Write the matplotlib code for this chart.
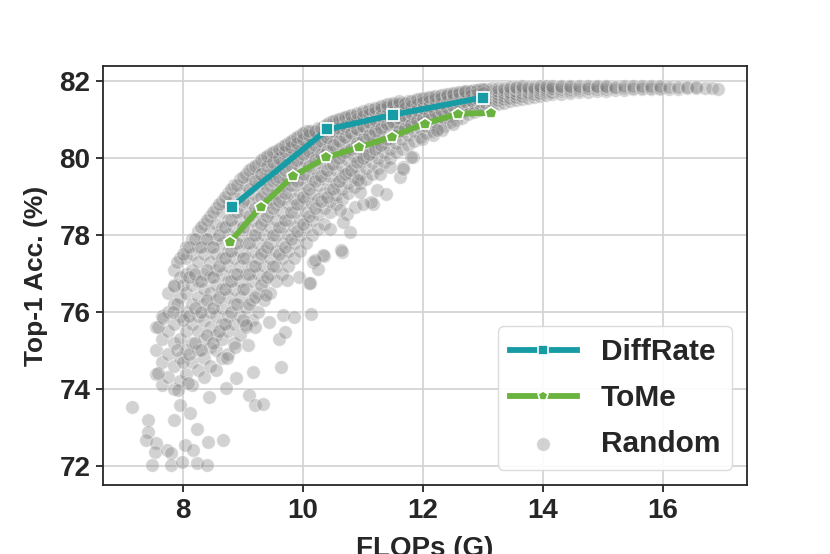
import numpy as np
import matplotlib
matplotlib.use('Agg')
import matplotlib.pyplot as plt

plt.rcParams['font.family'] = ['Liberation Sans', 'DejaVu Sans']
plt.rcParams['font.weight'] = 'bold'

# DiffRate / ToMe curves
diffrate_flops = [8.82, 10.41, 11.50, 13.00]
diffrate_acc = [78.74, 80.75, 81.13, 81.58]
tome_flops = [8.79, 9.30, 9.84, 10.39, 10.93, 11.48, 12.03, 12.59, 13.13]
tome_acc = [77.83, 78.74, 79.54, 80.02, 80.28, 80.56, 80.90, 81.16, 81.18]

# random search points, dense band (one x per column, list of acc values)
band_x = [7.55, 7.65, 7.75, 7.85, 7.95, 8.05, 8.15, 8.25, 8.35, 8.45,
          8.55, 8.65, 8.75, 8.85, 8.95, 9.05, 9.15, 9.25, 9.35, 9.45,
          9.55, 9.65, 9.75, 9.85, 9.95, 10.05, 10.15, 10.25, 10.35, 10.45,
          10.55, 10.65, 10.75, 10.85, 10.95, 11.05, 11.15, 11.25, 11.35, 11.45,
          11.55, 11.65, 11.75, 11.85, 11.95, 12.05, 12.15, 12.25, 12.35, 12.45,
          12.55, 12.65, 12.75, 12.85, 12.95, 13.05, 13.15, 13.25, 13.35, 13.45,
          13.55, 13.65, 13.75, 13.85, 13.95, 14.05, 14.15, 14.3, 14.45, 14.6,
          14.75, 14.9, 15.05, 15.2, 15.35, 15.5, 15.65, 15.8, 15.95, 16.1,
          16.25, 16.4, 16.55, 16.7, 16.82, 16.92]
band_y = [
    [74.4, 75.0, 75.6],
    [74.1, 74.7, 75.3, 75.9],
    [74.3, 74.9, 75.5, 76.0, 76.5],
    [74.0, 74.6, 75.2, 75.7, 76.2, 76.7, 77.1],
    [74.2, 74.8, 75.3, 75.9, 76.4, 76.9, 77.4],
    [74.4, 75.0, 75.5, 76.0, 76.5, 77.0, 77.4, 77.7],
    [74.1, 74.7, 75.2, 75.7, 76.2, 76.7, 77.1, 77.5, 77.9],
    [74.5, 75.0, 75.5, 75.9, 76.4, 76.8, 77.3, 77.7, 78.1],
    [74.3, 74.8, 75.3, 75.8, 76.2, 76.6, 77.0, 77.5, 77.9, 78.3],
    [74.6, 75.1, 75.6, 76.0, 76.5, 76.9, 77.3, 77.7, 78.1, 78.5],
    [74.5, 75.0, 75.4, 75.9, 76.3, 76.7, 77.1, 77.5, 77.9, 78.3, 78.7],
    [74.8, 75.3, 75.7, 76.1, 76.6, 77.0, 77.4, 77.8, 78.2, 78.6, 78.9],
    [74.9, 75.5, 75.9, 76.4, 76.8, 77.2, 77.6, 78.0, 78.4, 78.8, 79.1],
    [75.2, 75.7, 76.2, 76.6, 77.0, 77.4, 77.8, 78.2, 78.6, 79.0, 79.3],
    [75.4, 75.9, 76.4, 76.8, 77.2, 77.6, 78.0, 78.4, 78.8, 79.1, 79.45],
    [75.6, 76.1, 76.6, 77.0, 77.4, 77.8, 78.2, 78.6, 78.95, 79.3, 79.6],
    [75.8, 76.3, 76.8, 77.2, 77.6, 78.0, 78.4, 78.8, 79.1, 79.45, 79.75],
    [76.0, 76.5, 77.0, 77.4, 77.8, 78.2, 78.6, 78.95, 79.3, 79.6, 79.85],
    [76.3, 76.8, 77.2, 77.6, 78.0, 78.4, 78.8, 79.1, 79.45, 79.75, 80.0],
    [76.5, 77.0, 77.4, 77.8, 78.2, 78.6, 78.95, 79.3, 79.6, 79.9, 80.1],
    [76.8, 77.2, 77.6, 78.0, 78.4, 78.8, 79.1, 79.45, 79.75, 80.0, 80.2],
    [77.0, 77.4, 77.8, 78.2, 78.6, 78.95, 79.3, 79.6, 79.9, 80.15, 80.3],
    [77.2, 77.6, 78.0, 78.4, 78.8, 79.1, 79.45, 79.75, 80.0, 80.25, 80.4],
    [77.4, 77.8, 78.2, 78.6, 78.95, 79.3, 79.6, 79.9, 80.15, 80.35, 80.5],
    [77.6, 78.0, 78.4, 78.8, 79.1, 79.45, 79.75, 80.0, 80.25, 80.45, 80.6],
    [77.8, 78.2, 78.6, 78.95, 79.3, 79.6, 79.9, 80.15, 80.4, 80.6, 80.7],
    [78.0, 78.4, 78.8, 79.1, 79.45, 79.75, 80.0, 80.25, 80.5, 80.7],
    [78.15, 78.55, 78.95, 79.3, 79.6, 79.9, 80.15, 80.4, 80.6, 80.8],
    [78.3, 78.7, 79.1, 79.45, 79.75, 80.05, 80.3, 80.5, 80.7, 80.85],
    [78.6, 78.9, 79.2, 79.55, 79.85, 80.15, 80.4, 80.6, 80.8, 80.95],
    [78.8, 79.05, 79.35, 79.7, 80.0, 80.25, 80.5, 80.7, 80.9, 81.0],
    [78.95, 79.2, 79.5, 79.8, 80.1, 80.35, 80.6, 80.8, 80.95, 81.05],
    [79.1, 79.35, 79.65, 79.95, 80.2, 80.45, 80.7, 80.9, 81.05, 81.1],
    [79.25, 79.5, 79.8, 80.05, 80.3, 80.55, 80.8, 80.95, 81.1],
    [79.35, 79.6, 79.9, 80.15, 80.4, 80.65, 80.85, 81.0, 81.15],
    [79.45, 79.75, 80.05, 80.3, 80.5, 80.75, 80.95, 81.1, 81.2],
    [79.6, 79.9, 80.15, 80.4, 80.6, 80.8, 81.0, 81.15, 81.25],
    [79.75, 80.0, 80.3, 80.5, 80.7, 80.9, 81.05, 81.2, 81.3],
    [79.9, 80.15, 80.4, 80.6, 80.8, 80.95, 81.1, 81.25, 81.35],
    [80.0, 80.25, 80.5, 80.7, 80.9, 81.05, 81.2, 81.3, 81.4],
    [80.15, 80.4, 80.6, 80.8, 80.95, 81.1, 81.25, 81.35, 81.42],
    [80.25, 80.5, 80.7, 80.9, 81.05, 81.2, 81.3, 81.45],
    [80.35, 80.6, 80.8, 80.95, 81.1, 81.25, 81.35, 81.48],
    [80.45, 80.7, 80.9, 81.05, 81.2, 81.3, 81.4, 81.5],
    [80.55, 80.8, 80.95, 81.1, 81.25, 81.35, 81.45, 81.55],
    [80.65, 80.85, 81.0, 81.15, 81.3, 81.4, 81.5, 81.58],
    [80.7, 80.9, 81.05, 81.2, 81.35, 81.45, 81.55, 81.6],
    [80.8, 81.0, 81.15, 81.3, 81.4, 81.5, 81.6],
    [80.85, 81.05, 81.2, 81.35, 81.45, 81.55, 81.64],
    [80.95, 81.1, 81.25, 81.4, 81.5, 81.6, 81.67],
    [81.0, 81.15, 81.3, 81.45, 81.55, 81.65, 81.7],
    [81.05, 81.2, 81.35, 81.48, 81.58, 81.68, 81.72],
    [81.15, 81.3, 81.42, 81.52, 81.62, 81.7, 81.75],
    [81.2, 81.35, 81.45, 81.55, 81.65, 81.73, 81.77],
    [81.25, 81.4, 81.5, 81.6, 81.68, 81.76, 81.8],
    [81.3, 81.45, 81.55, 81.64, 81.72, 81.8],
    [81.35, 81.48, 81.58, 81.66, 81.74, 81.82],
    [81.4, 81.52, 81.6, 81.68, 81.76, 81.83],
    [81.45, 81.55, 81.63, 81.71, 81.78, 81.84],
    [81.5, 81.58, 81.66, 81.73, 81.8, 81.85],
    [81.52, 81.6, 81.68, 81.75, 81.82, 81.86],
    [81.55, 81.63, 81.7, 81.77, 81.83, 81.87],
    [81.58, 81.66, 81.73, 81.79, 81.85],
    [81.6, 81.68, 81.75, 81.8, 81.86],
    [81.62, 81.7, 81.77, 81.82, 81.87],
    [81.64, 81.72, 81.78, 81.83, 81.88],
    [81.66, 81.73, 81.79, 81.84, 81.88],
    [81.68, 81.75, 81.8, 81.85, 81.89],
    [81.7, 81.76, 81.81, 81.86, 81.89],
    [81.72, 81.78, 81.83, 81.87],
    [81.73, 81.79, 81.84, 81.88],
    [81.74, 81.8, 81.85, 81.89],
    [81.76, 81.81, 81.86, 81.89],
    [81.77, 81.82, 81.86],
    [81.78, 81.83, 81.87],
    [81.79, 81.83, 81.87],
    [81.79, 81.84, 81.87],
    [81.8, 81.84, 81.87],
    [81.8, 81.84, 81.87],
    [81.81, 81.85],
    [81.81, 81.85],
    [81.82, 81.85],
    [81.82, 81.85],
    [81.82],
    [81.82],
    [81.81],
]

# second, interleaved set of columns inside the dense band
band2_x = [7.9, 8.0, 8.1, 8.2, 8.3, 8.4, 8.5, 8.6, 8.7, 8.8,
           8.9, 9.0, 9.1, 9.2, 9.3, 9.4, 9.5, 9.6, 9.7, 9.8,
           9.9, 10.0, 10.1, 10.2, 10.3, 10.4, 10.5, 10.6, 10.7, 10.8,
           10.9, 11.0, 11.1, 11.2, 11.3, 11.4, 11.5, 11.6, 11.7, 11.8,
           11.9, 12.0, 12.1, 12.2, 12.3, 12.4, 12.5, 12.6, 12.7, 12.8,
           12.9, 13.0]
band2_y = [
    [75.0, 76.2, 77.3],
    [74.7, 75.8, 76.7, 77.5],
    [74.9, 75.9, 76.9, 77.7],
    [75.2, 76.1, 77.0, 77.9],
    [75.0, 76.0, 76.8, 77.7, 78.2],
    [75.4, 76.3, 77.1, 77.9, 78.4],
    [75.2, 76.1, 76.9, 77.7, 78.6],
    [75.5, 76.4, 77.2, 78.0, 78.8],
    [75.7, 76.6, 77.4, 78.2, 79.0],
    [76.0, 76.8, 77.6, 78.4, 79.2],
    [76.2, 77.0, 77.8, 78.6, 79.3],
    [75.8, 76.6, 77.4, 78.2, 78.9, 79.5],
    [76.2, 77.0, 77.8, 78.5, 79.2, 79.7],
    [76.4, 77.2, 78.0, 78.7, 79.4, 79.8],
    [76.7, 77.5, 78.3, 79.0, 79.6, 79.95],
    [76.9, 77.7, 78.5, 79.2, 79.8, 80.05],
    [77.2, 78.0, 78.7, 79.4, 79.9, 80.15],
    [77.5, 78.2, 78.9, 79.5, 80.0, 80.25],
    [77.7, 78.4, 79.1, 79.7, 80.2, 80.35],
    [77.9, 78.6, 79.3, 79.8, 80.3, 80.45],
    [78.1, 78.8, 79.4, 79.95, 80.4, 80.55],
    [78.3, 79.0, 79.6, 80.1, 80.5, 80.65],
    [78.5, 79.2, 79.8, 80.2, 80.6, 80.72],
    [78.7, 79.4, 79.95, 80.35, 80.7],
    [78.9, 79.55, 80.1, 80.45, 80.8],
    [79.0, 79.7, 80.2, 80.55, 80.9],
    [79.2, 79.85, 80.35, 80.7, 80.97],
    [79.4, 80.0, 80.45, 80.8, 81.02],
    [79.6, 80.15, 80.55, 80.85, 81.08],
    [79.7, 80.25, 80.65, 80.95, 81.12],
    [79.9, 80.4, 80.75, 81.02, 81.17],
    [80.0, 80.5, 80.85, 81.1, 81.22],
    [80.1, 80.6, 80.95, 81.15, 81.27],
    [80.25, 80.7, 81.0, 81.2, 81.32],
    [80.35, 80.8, 81.1, 81.28, 81.37],
    [80.5, 80.9, 81.15, 81.33, 81.42],
    [80.6, 80.95, 81.2, 81.38, 81.45],
    [80.7, 81.05, 81.25, 81.42, 81.48],
    [80.8, 81.1, 81.32, 81.45],
    [80.9, 81.18, 81.37, 81.5],
    [81.0, 81.25, 81.42, 81.53],
    [81.05, 81.3, 81.47, 81.57],
    [81.12, 81.35, 81.5, 81.6],
    [81.2, 81.4, 81.55, 81.62],
    [81.25, 81.45, 81.58, 81.65],
    [81.3, 81.5, 81.62, 81.68],
    [81.35, 81.55, 81.65, 81.7],
    [81.42, 81.58, 81.68, 81.73],
    [81.48, 81.62, 81.72, 81.76],
    [81.52, 81.65, 81.74],
    [81.56, 81.68, 81.77],
    [81.6, 81.7, 81.79],
]

# sparse points below the band (bottom-left corner)
low_x = [7.16, 7.42, 7.42, 7.39, 7.56, 7.53, 7.73, 7.81, 7.49, 7.81,
         7.98, 8.23, 8.41, 8.03, 8.17, 8.42, 8.67, 8.23, 7.86, 7.95,
         8.12, 7.92, 8.09, 8.44, 8.72, 8.89, 9.10, 9.20, 9.34, 9.17,
         9.63, 7.59, 7.59, 7.67, 7.84, 7.85, 8.87, 9.09, 8.73, 9.60,
         9.70, 9.44, 9.67, 9.85, 10.13, 9.21, 9.39, 9.06]
low_y = [73.54, 73.18, 72.89, 72.66, 72.59, 72.37, 72.42, 72.33, 72.03, 72.03,
         72.11, 72.07, 72.01, 72.55, 72.42, 72.63, 72.66, 72.96, 73.18, 73.58,
         73.37, 73.97, 74.15, 73.80, 74.02, 74.28, 73.83, 73.58, 73.60, 74.45,
         74.58, 74.41, 75.62, 75.84, 76.01, 76.68, 75.08, 75.14, 74.80, 75.29,
         75.49, 75.75, 75.92, 75.88, 75.94, 75.62, 76.44, 75.66]

# sparse arc to the right of the band
arc_x = [9.94, 10.11, 10.17, 10.26, 10.35, 10.65, 10.34, 10.45, 10.64, 10.73,
         10.87, 10.78, 10.67, 10.62, 11.17, 11.23, 11.39, 11.28, 11.45, 11.67,
         11.84, 11.62, 11.14, 11.01, 12.17, 12.31, 12.50, 11.98, 12.23, 9.73,
         10.12, 10.20, 10.95, 10.92, 11.81, 11.67]
arc_y = [76.90, 76.75, 77.31, 77.11, 77.45, 77.57, 77.48, 78.17, 77.61, 78.56,
         78.74, 78.09, 78.35, 78.65, 78.82, 79.17, 79.08, 79.60, 79.77, 79.77,
         80.03, 79.51, 78.87, 78.82, 80.60, 80.73, 80.90, 80.51, 80.73, 76.83,
         76.75, 77.35, 79.12, 79.43, 80.03, 79.73]

rand_x = ([x for x, ys in zip(band_x, band_y) for _ in ys]
          + [x for x, ys in zip(band2_x, band2_y) for _ in ys] + low_x + arc_x)
rand_y = ([y for ys in band_y for y in ys]
          + [y for ys in band2_y for y in ys] + low_y + arc_y)

fig = plt.figure(figsize=(8.3, 5.54), dpi=100)
ax = fig.add_axes([103 / 830, 69 / 554, 644 / 830, 419 / 554])

ax.scatter(rand_x, rand_y, s=95, c='gray', alpha=0.35, edgecolors='white',
           linewidths=0.8, label='Random', zorder=2)
ax.plot(diffrate_flops, diffrate_acc, color='#179ca6', lw=4.2, marker='s',
        markersize=9, markeredgecolor='white', markeredgewidth=1.2,
        label='DiffRate', zorder=4)
ax.plot(tome_flops, tome_acc, color='#6bb33f', lw=4.2, marker='p',
        markersize=9, markeredgecolor='white', markeredgewidth=1.2,
        label='ToMe', zorder=3)

ax.set_xlim(6.67, 17.4)
ax.set_ylim(71.5, 82.4)
ax.set_xticks([8, 10, 12, 14, 16])
ax.set_yticks([72, 74, 76, 78, 80, 82])
ax.grid(True, color='#d4d4d4', lw=1.3, zorder=0)
ax.set_axisbelow(True)
for sp in ax.spines.values():
    sp.set_color('#262626')
    sp.set_linewidth(1.3)
ax.tick_params(axis='both', length=5, width=1.3, color='#262626',
               labelsize=20, pad=4, labelcolor='#262626')
for lab in ax.get_xticklabels() + ax.get_yticklabels():
    lab.set_fontweight('bold')

# the x label sits partly below the canvas edge, as in the original figure
ax.set_xlabel('FLOPs (G)', fontsize=20, fontweight='bold', color='#262626',
              labelpad=9)
ax.set_ylabel('Top-1 Acc. (%)', fontsize=19, fontweight='bold', color='#262626',
              labelpad=8)

handles, labels = ax.get_legend_handles_labels()
order = [labels.index('DiffRate'), labels.index('ToMe'), labels.index('Random')]
leg = ax.legend([handles[i] for i in order], [labels[i] for i in order],
                loc='lower right', prop={'weight': 'bold', 'size': 21.5},
                handlelength=2.25, handletextpad=0.8, labelspacing=0.6,
                borderaxespad=0.5, fancybox=True, framealpha=0.9,
                edgecolor='#d8d8d8')
for t in leg.get_texts():
    t.set_color('#262626')
for h in leg.legend_handles[:2]:
    h.set_markersize(7)

fig.savefig('out.png', dpi=100)
